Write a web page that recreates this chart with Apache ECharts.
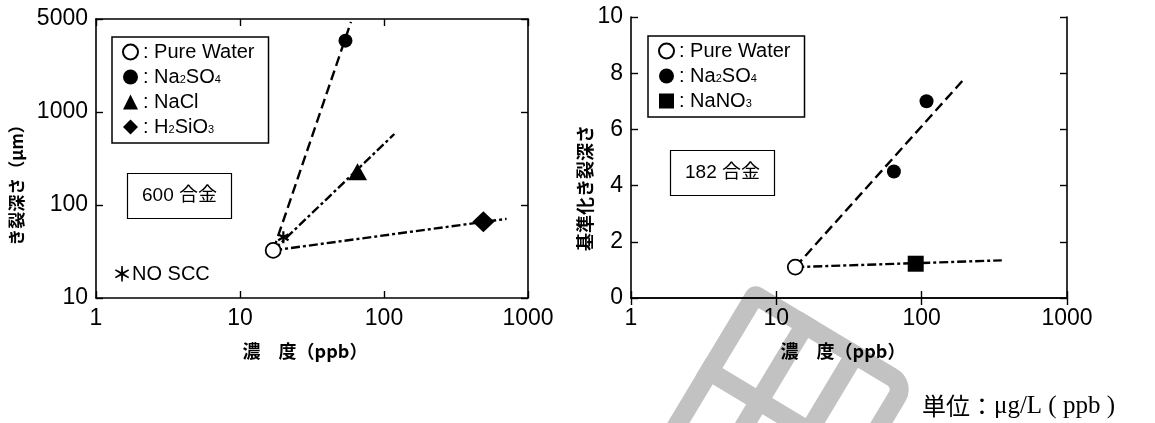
<!DOCTYPE html>
<html>
<head>
<meta charset="utf-8">
<title>濃度とき裂深さ</title>
<script src="https://cdn.jsdelivr.net/npm/echarts@6.0.0/dist/echarts.min.js"></script>
<style>
  html, body { margin: 0; padding: 0; background: #fff; }
  #chart { width: 1155px; height: 423px; }
</style>
</head>
<body>
<div id="chart"></div>
<script>
// ---- axis ticks ----
const xTickValues = [1, 10, 100, 1000];
const leftYTickValues = [10, 100, 1000, 10000];
const leftYTickLabels = ['10', '100', '1000', '5000'];
const rightYTickValues = [0, 2, 4, 6, 8, 10];

// ---- 600 合金 (log-log): [濃度 ppb, き裂深さ μm] ----
const pureWater600 = [[17, 32.5]];
const na2so4_600 = [[54, 5850]];
const na2so4Line600 = [[17, 32.5], [59, 9300]];
const nacl600 = [[65.5, 228]];
const naclLine600 = [[17, 32.5], [118, 580]];
const h2sio3_600 = [[490, 66]];
const h2sio3Line600 = [[17, 32.5], [710, 71]];
const noScc600 = [[20, 45]];

// ---- 182 合金 (log-linear): [濃度 ppb, 基準化き裂深さ] ----
const pureWater182 = [[13.5, 1.1]];
const na2so4_182 = [[64.4, 4.5], [108, 7.0]];
const na2so4Line182 = [[13.5, 1.1], [194, 7.77]];
const nano3_182 = [[91, 1.22]];
const nano3Line182 = [[13.5, 1.1], [356, 1.34]];

const LATIN = '"Liberation Sans", Arial, "Noto Sans CJK JP", sans-serif';
const CJK = '"Noto Sans CJK JP", "Liberation Sans", sans-serif';
const BLACK = '#000';
const MARK_GREY = '#c2c2c2';

const dashed = [10, 5];
const dashDot = [9, 3, 3, 3];

// six-armed asterisk symbol ("NO SCC" point), built from three bars
function asteriskPath(armLen, halfWidth) {
  const parts = [0, 60, 120].map(deg => {
    const a = deg * Math.PI / 180;
    const dx = Math.sin(a) * armLen, dy = -Math.cos(a) * armLen;
    const nx = Math.cos(a) * halfWidth, ny = Math.sin(a) * halfWidth;
    const p = [[dx + nx, dy + ny], [dx - nx, dy - ny], [-dx - nx, -dy - ny], [-dx + nx, -dy + ny]];
    return 'M' + p.map(q => q[0].toFixed(2) + ',' + q[1].toFixed(2)).join(' L') + ' Z';
  });
  return 'path://' + parts.join(' ');
}

function tickAxisCommon() {
  return {
    axisLine: { show: true, lineStyle: { color: BLACK, width: 1.6 } },
    axisTick: { show: true, inside: true, length: 7, lineStyle: { color: BLACK, width: 1.4 } },
    splitLine: { show: false },
    minorTick: { show: false }
  };
}

function xLogAxis(gridIndex, position, withLabels, nameOffsetPad) {
  return Object.assign(tickAxisCommon(), {
    type: 'log', logBase: 10, gridIndex, position,
    min: xTickValues[0], max: xTickValues[xTickValues.length - 1],
    axisLabel: {
      show: withLabels, color: BLACK, fontSize: 23, fontFamily: LATIN, margin: 9,
      formatter: v => String(Math.round(v))
    },
    name: withLabels ? '濃　度（ppb）' : '',
    nameLocation: 'middle', nameGap: 44,
    nameTextStyle: { color: BLACK, fontSize: 18, fontWeight: 'bold', fontFamily: CJK, padding: [0, nameOffsetPad, 0, 0] }
  });
}

function leftYLabel(v) {
  let best = 0;
  leftYTickValues.forEach((t, i) => {
    if (Math.abs(Math.log10(t) - Math.log10(v)) < Math.abs(Math.log10(leftYTickValues[best]) - Math.log10(v))) best = i;
  });
  return leftYTickLabels[best];
}

function legendLabel(name) {
  const map = {
    'Pure Water': ': Pure Water',
    'Na2SO4': ': Na{sub|2}SO{sub|4}',
    'NaCl': ': NaCl',
    'H2SiO3': ': H{sub|2}SiO{sub|3}',
    'NaNO3': ': NaNO{sub|3}'
  };
  return map[name] || name;
}

function legendBox(left, top, names) {
  return {
    left, top, orient: 'vertical', data: names, selectedMode: false,
    itemWidth: 15, itemHeight: 15, itemGap: 5, itemTextGap: 9,
    padding: [5, 14, 6, 10],
    borderColor: BLACK, borderWidth: 1.5, backgroundColor: '#fff',
    formatter: legendLabel,
    textStyle: {
      color: BLACK, fontSize: 20, lineHeight: 20, fontFamily: LATIN,
      rich: { sub: { fontSize: 11, lineHeight: 11, padding: [5, 0, 0, 0], fontFamily: LATIN, color: BLACK } }
    }
  };
}

const solidBlack = { color: BLACK, opacity: 1 };
const pureWaterStyle = { color: '#fff', borderColor: BLACK, borderWidth: 1.8, opacity: 1 };

// grey grid-shaped mark: outer frame plus inner bars, in its own rotated frame
const markT = 19, markU = 193, markV = 197;
const markUBars = [58, 116];
const markVBars = [89];
const markChildren = [
  { type: 'rect', shape: { x: markT / 2, y: markT / 2, width: markU - markT, height: markV - markT, r: [2, 14, 14, 14] },
    style: { fill: 'none', stroke: MARK_GREY, lineWidth: markT } }
].concat(
  markUBars.map(u => ({ type: 'rect', shape: { x: u, y: 0, width: markT, height: markV }, style: { fill: MARK_GREY } })),
  markVBars.map(v => ({ type: 'rect', shape: { x: 0, y: v, width: markU, height: markT }, style: { fill: MARK_GREY } }))
);

const option = {
  backgroundColor: '#fff',
  animation: false,
  grid: [
    { left: 96, top: 19, width: 432, height: 279, containLabel: false },
    { left: 631, top: 17, width: 436, height: 281, containLabel: false }
  ],
  xAxis: [
    xLogAxis(0, 'bottom', true, 14),
    xLogAxis(0, 'top', false, 0),
    xLogAxis(1, 'bottom', true, 12),
    xLogAxis(1, 'top', false, 0)
  ],
  yAxis: [
    Object.assign(tickAxisCommon(), {
      type: 'log', logBase: 10, gridIndex: 0, position: 'left',
      min: leftYTickValues[0], max: leftYTickValues[leftYTickValues.length - 1],
      axisLabel: { color: BLACK, fontSize: 23, fontFamily: LATIN, margin: 8, formatter: leftYLabel }
    }),
    Object.assign(tickAxisCommon(), {
      type: 'log', logBase: 10, gridIndex: 0, position: 'right',
      min: leftYTickValues[0], max: leftYTickValues[leftYTickValues.length - 1],
      axisLabel: { show: false }
    }),
    Object.assign(tickAxisCommon(), {
      type: 'value', gridIndex: 1, position: 'left',
      min: rightYTickValues[0], max: rightYTickValues[rightYTickValues.length - 1], interval: 2,
      axisLabel: { color: BLACK, fontSize: 23, fontFamily: LATIN, margin: 8 }
    }),
    Object.assign(tickAxisCommon(), {
      type: 'value', gridIndex: 1, position: 'right',
      min: rightYTickValues[0], max: rightYTickValues[rightYTickValues.length - 1], interval: 2,
      axisLabel: { show: false }
    })
  ],
  legend: [
    legendBox(112, 37, ['Pure Water', 'Na2SO4', 'NaCl', 'H2SiO3']),
    legendBox(648, 36, ['Pure Water', 'Na2SO4', 'NaNO3'])
  ],
  title: [
    {
      text: '600 合金', left: 127, top: 173,
      padding: [12, 15, 12, 15], borderColor: BLACK, borderWidth: 1.2,
      textStyle: { color: BLACK, fontSize: 19, fontWeight: 'normal', fontFamily: LATIN, lineHeight: 22 }
    },
    {
      text: '182 合金', left: 670, top: 150,
      padding: [12, 15, 12, 15], borderColor: BLACK, borderWidth: 1.2,
      textStyle: { color: BLACK, fontSize: 19, fontWeight: 'normal', fontFamily: LATIN, lineHeight: 22 }
    },
    {
      text: '{a|＊}NO SCC', left: 112, top: 262, padding: 0,
      textStyle: {
        color: BLACK, fontSize: 20, fontWeight: 'normal', fontFamily: LATIN, lineHeight: 24,
        rich: { a: { fontSize: 20, fontWeight: 'bold', fontFamily: CJK, lineHeight: 24, color: BLACK } }
      }
    }
  ],
  graphic: [
    { type: 'group', x: 752, y: 282, rotation: -31 * Math.PI / 180, silent: true, z: -10, children: markChildren },
    {
      type: 'text', x: 17, y: 181, rotation: Math.PI / 2, silent: true,
      style: { text: 'き裂深さ（μm）', fill: BLACK, font: 'bold 17px ' + CJK, align: 'center', verticalAlign: 'middle' }
    },
    {
      type: 'text', x: 585, y: 188, rotation: Math.PI / 2, silent: true,
      style: { text: '基準化き裂深さ', fill: BLACK, font: 'bold 18px ' + CJK, align: 'center', verticalAlign: 'middle' }
    },
    {
      type: 'text', x: 1115, y: 406, silent: true,
      style: {
        text: '{j|単位：}{s|μg/L ( ppb )}', align: 'right', verticalAlign: 'middle',
        rich: {
          j: { fontSize: 24, fontFamily: CJK, fill: BLACK },
          s: { fontSize: 25, fontFamily: '"Liberation Serif", "Times New Roman", serif', fill: BLACK }
        }
      }
    }
  ],
  series: [
    // 600 合金: trend lines
    { type: 'line', name: 'Na2SO4 trend 600', xAxisIndex: 0, yAxisIndex: 0, data: na2so4Line600, symbol: 'none',
      lineStyle: { color: BLACK, width: 2.4, type: dashed, opacity: 1 }, z: 2 },
    { type: 'line', name: 'NaCl trend 600', xAxisIndex: 0, yAxisIndex: 0, data: naclLine600, symbol: 'none',
      lineStyle: { color: BLACK, width: 2.4, type: dashDot, opacity: 1 }, z: 2 },
    { type: 'line', name: 'H2SiO3 trend 600', xAxisIndex: 0, yAxisIndex: 0, data: h2sio3Line600, symbol: 'none',
      lineStyle: { color: BLACK, width: 2.4, type: dashDot, opacity: 1 }, z: 2 },
    // 600 合金: measured points
    { type: 'scatter', name: 'Na2SO4', xAxisIndex: 0, yAxisIndex: 0, data: na2so4_600,
      symbol: 'circle', symbolSize: 14, itemStyle: solidBlack, z: 4 },
    { type: 'scatter', name: 'NaCl', xAxisIndex: 0, yAxisIndex: 0, data: nacl600,
      symbol: 'triangle', symbolSize: [19, 17], itemStyle: solidBlack, z: 4 },
    { type: 'scatter', name: 'H2SiO3', xAxisIndex: 0, yAxisIndex: 0, data: h2sio3_600,
      symbol: 'diamond', symbolSize: [22, 21], itemStyle: solidBlack, z: 4 },
    { type: 'scatter', name: 'Pure Water', xAxisIndex: 0, yAxisIndex: 0, data: pureWater600,
      symbol: 'circle', symbolSize: 15, itemStyle: pureWaterStyle, z: 5 },
    { type: 'scatter', name: 'NO SCC', xAxisIndex: 0, yAxisIndex: 0, data: noScc600,
      symbol: asteriskPath(6, 1.1), symbolSize: 12, symbolKeepAspect: true,
      itemStyle: { color: BLACK, opacity: 1 }, z: 6 },

    // 182 合金
    { type: 'line', name: 'Na2SO4 trend 182', xAxisIndex: 2, yAxisIndex: 2, data: na2so4Line182, symbol: 'none',
      lineStyle: { color: BLACK, width: 2.4, type: dashed, opacity: 1 }, z: 2 },
    { type: 'line', name: 'NaNO3 trend 182', xAxisIndex: 2, yAxisIndex: 2, data: nano3Line182, symbol: 'none',
      lineStyle: { color: BLACK, width: 2.4, type: dashDot, opacity: 1 }, z: 2 },
    { type: 'scatter', name: 'Na2SO4', xAxisIndex: 2, yAxisIndex: 2, data: na2so4_182,
      symbol: 'circle', symbolSize: 14, itemStyle: solidBlack, z: 4 },
    { type: 'scatter', name: 'NaNO3', xAxisIndex: 2, yAxisIndex: 2, data: nano3_182,
      symbol: 'rect', symbolSize: 16, itemStyle: solidBlack, z: 4 },
    { type: 'scatter', name: 'Pure Water', xAxisIndex: 2, yAxisIndex: 2, data: pureWater182,
      symbol: 'circle', symbolSize: 15, itemStyle: pureWaterStyle, z: 5 }
  ]
};

const chart = echarts.init(document.getElementById('chart'), null, { renderer: 'canvas' });
chart.setOption(option);
</script>
</body>
</html>
